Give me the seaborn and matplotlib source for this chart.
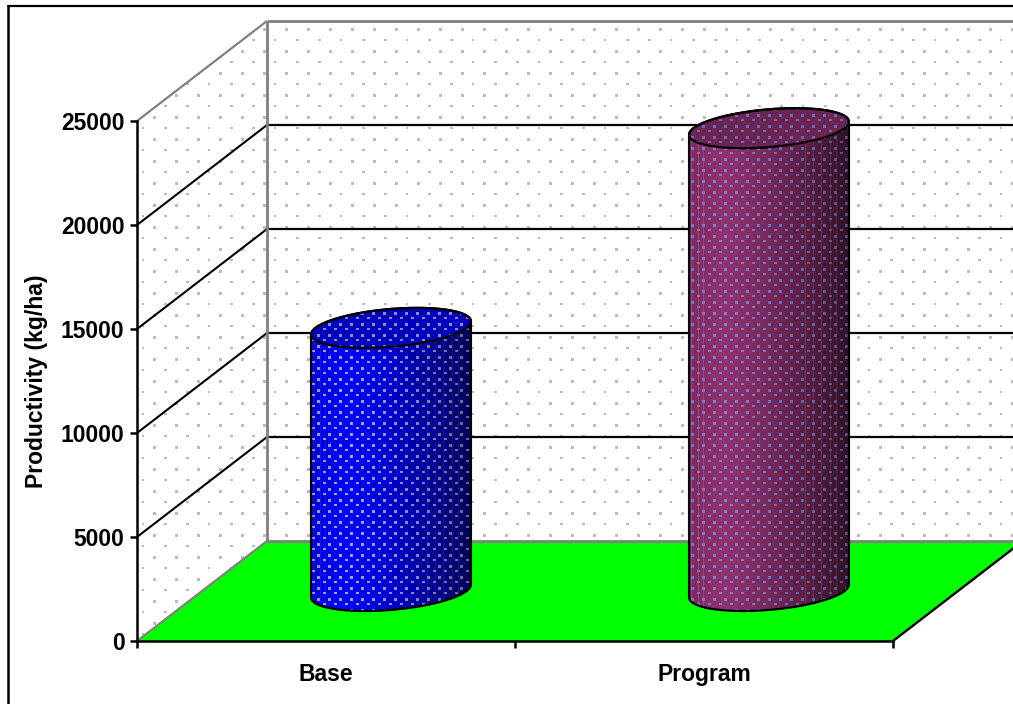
import numpy as np
import pandas as pd
import seaborn as sns
import matplotlib
matplotlib.use("Agg")
import matplotlib.pyplot as plt
from matplotlib.lines import Line2D
from matplotlib.patches import Polygon

# Chart values
categories = ["Base", "Program"]
productivity = [12650, 22250]
y_ticks = [0, 5000, 10000, 15000, 20000, 25000]
y_label = "Productivity (kg/ha)"

# Colours
side_bright = [(0, 0, 250), (146, 50, 108)]
top_colors = [(0, 0, 190), (108, 36, 80)]
dot_colors = [(165, 165, 235), (122, 128, 228)]
wall_dot = (187, 187, 187)
floor_color = "#00ff00"
wall_edge = "#808080"

W, H = 1013, 704
FRONT_L, FRONT_R, FRONT_B, FRONT_T = 137, 893, 641, 121
DEPTH_X_PX, DEPTH_Y_PX = 130, 100

sns.set_theme(style="white")
plt.rcParams["font.family"] = ["Liberation Sans", "DejaVu Sans"]
plt.rcParams["font.weight"] = "bold"

fig = plt.figure(figsize=(W / 100, H / 100), dpi=100, facecolor="white")
ax = fig.add_axes([FRONT_L / W, (H - FRONT_B) / H,
                   (FRONT_R - FRONT_L) / W, (FRONT_B - FRONT_T) / H])
ax.patch.set_visible(False)

df = pd.DataFrame({"group": categories, "value": productivity})
sns.barplot(data=df, x="group", y="value", width=0.4, ax=ax, errorbar=None)
bars = list(ax.patches)
for bar in bars:
    bar.set_visible(False)

XMIN, XMAX, YMIN, YMAX = -0.5, 1.5, 0, 25000
ax.set_xlim(XMIN, XMAX)
ax.set_ylim(YMIN, YMAX)
x_per_px = (XMAX - XMIN) / (FRONT_R - FRONT_L)
y_per_px = (YMAX - YMIN) / (FRONT_B - FRONT_T)
DX = DEPTH_X_PX * x_per_px
DY = DEPTH_Y_PX * y_per_px

# Data extent of the whole canvas, so pixel-grid textures line up with the scales
full_extent = (XMIN - FRONT_L * x_per_px, XMIN + (W - FRONT_L) * x_per_px,
               YMIN - (H - FRONT_B) * y_per_px, YMIN + FRONT_B * y_per_px)


def proj(x, y, d):
    """Project a point at depth d (0 front, 1 back) onto the axes."""
    return x + DX * d, y + DY * d


def textured(rgba, outline, zorder):
    clip = Polygon(outline, closed=True, transform=ax.transData)
    im = ax.imshow(rgba, extent=full_extent, origin="upper", aspect="auto",
                   interpolation="nearest", zorder=zorder)
    im.set_clip_box(fig.bbox)
    im.set_clip_path(clip)
    return im


# Dotted pattern of the two walls
wall_tex = np.ones((H, W, 3), dtype=np.uint8) * 255
for k, row in enumerate(range(7, H, 11)):
    tall = 3 if k % 2 == 0 else 2
    start = 0 if k % 2 == 0 else 11
    for n, col in enumerate(range(start, W, 22)):
        wide = 2 if (k % 2 and n % 3 == 0) else 3
        wall_tex[row - 1:row - 1 + tall, col - 1:col - 1 + wide] = wall_dot

side_wall = [proj(XMIN, 0, 0), proj(XMIN, 0, 1), proj(XMIN, YMAX, 1), proj(XMIN, YMAX, 0)]
back_wall = [proj(XMIN, 0, 1), proj(XMAX, 0, 1), proj(XMAX, YMAX, 1), proj(XMIN, YMAX, 1)]
floor = [proj(XMIN, 0, 0), proj(XMAX, 0, 0), proj(XMAX, 0, 1), proj(XMIN, 0, 1)]
textured(wall_tex, side_wall, 0.2)
textured(wall_tex, back_wall, 0.2)
ax.add_patch(Polygon(floor, closed=True, facecolor=floor_color, edgecolor="none",
                     zorder=0.4, clip_on=False))


def seg(a, b, color, lw, z=0.6):
    ax.add_line(Line2D([a[0], b[0]], [a[1], b[1]], color=color, lw=lw, zorder=z,
                       clip_on=False, solid_capstyle="butt"))


# Gridlines running across both walls
for v in y_ticks[1:-1]:
    seg(proj(XMIN, v, 0), proj(XMIN, v, 1), "black", 1.5)
    seg(proj(XMIN, v, 1), proj(XMAX, v, 1), "black", 1.6)
seg(proj(XMIN, YMAX, 0), proj(XMIN, YMAX, 1), wall_edge, 1.6)
seg(proj(XMIN, YMAX, 1), proj(XMAX, YMAX, 1), wall_edge, 2.0)
seg(proj(XMIN, 0, 1), proj(XMIN, YMAX, 1), wall_edge, 2.0)
seg(proj(XMIN, 0, 0), proj(XMIN, 0, 1), wall_edge, 1.6)
seg(proj(XMIN, 0, 1), proj(XMAX, 0, 1), wall_edge, 2.0)
seg(proj(XMAX, 0, 0), proj(XMAX, 0, 1), "black", 1.7)

# Columns as cylinders standing mid-depth on the floor
DEPTH_RADIUS = 0.2
FACETS = [2, 9, 14, 116, 124, 132, 141, 147]


def ring(cx, value, t):
    xs = cx + (bar_half) * np.cos(t)
    ds = 0.5 + DEPTH_RADIUS * np.sin(t)
    return proj(xs, value, ds)


def shade(u):
    # Lit from the left: brightest near a fifth of the width, dark at the right edge
    rise = 0.85 + 0.15 * np.clip(u / 0.2, 0, 1)
    fall = 1 - 0.66 * np.clip((u - 0.2) / 0.8, 0, 1) ** 1.3
    return rise * fall


for i, bar in enumerate(bars):
    bar_half = bar.get_width() / 2
    cx = bar.get_x() + bar_half
    value = bar.get_height()
    t0 = np.arctan2(DX * DEPTH_RADIUS, bar_half)
    lower = np.linspace(t0 + np.pi, t0 + 2 * np.pi, 80)
    upper = np.linspace(t0, t0 + np.pi, 80)
    low_x, low_y = ring(cx, 0, lower)
    up_x, up_y = ring(cx, value, upper)
    all_x, all_y = ring(cx, value, np.linspace(0, 2 * np.pi, 160))
    body = np.column_stack([np.r_[low_x, up_x], np.r_[low_y, up_y]])
    cap = np.column_stack([all_x, all_y])

    left_px = int(round((low_x[0] - XMIN) / x_per_px + FRONT_L))
    right_px = int(round((low_x[-1] - XMIN) / x_per_px + FRONT_L))
    span = max(right_px - left_px, 1)
    u = np.clip((np.arange(W) - left_px) / span, 0, 1)
    s = shade(u)

    base = np.array(side_bright[i], dtype=float)
    dots = np.array(dot_colors[i], dtype=float)
    tex = np.ones((H, W, 3)) * (base[None, None, :] * s[None, :, None])
    for f in FACETS:
        col = left_px + f
        tex[:, col, :] = np.minimum(tex[:, col, :] * 1.08 + 18, 255)
    dot_scale = (0.4 + 0.6 * s)[None, :, None]
    dot_tex = np.ones((H, W, 3)) * dots[None, None, :] * dot_scale
    mask = np.zeros((H, W), dtype=bool)
    for k, row in enumerate(np.arange(4, H, 5.5)):
        r = int(row)
        start = 9 if k % 2 == 0 else 4
        tall = 3 if k % 2 == 0 else 2
        for col in range(start, W, 11):
            mask[r:r + tall, col:col + 3] = True
    tex[mask] = dot_tex[mask]
    textured(np.clip(tex, 0, 255).astype(np.uint8), body, 1.0 + i)

    cap_tex = np.ones((H, W, 3)) * np.array(top_colors[i], dtype=float)
    flat_dots = np.ones((H, W, 3)) * dots * 0.85
    cap_tex[mask] = flat_dots[mask]
    textured(np.clip(cap_tex, 0, 255).astype(np.uint8), cap, 1.1 + i)

    ax.add_patch(Polygon(body, closed=True, facecolor="none", edgecolor="black",
                         lw=1.6, zorder=1.2 + i, clip_on=False))
    ax.add_patch(Polygon(cap, closed=True, facecolor="none", edgecolor="black",
                         lw=1.6, zorder=1.3 + i, clip_on=False))

# Axes furniture on the front plane
sns.despine(ax=ax, top=True, right=True)
for side in ("left", "bottom"):
    ax.spines[side].set_color("black")
    ax.spines[side].set_linewidth(1.8)
    ax.spines[side].set_zorder(5)

ax.set_yticks(y_ticks)
ax.set_yticklabels([str(v) for v in y_ticks])
ax.set_xticks([-0.5, 0.5, 1.5])
ax.set_xticklabels([])
ax.set_xticks([0, 1], minor=True)
ax.set_xticklabels(categories, minor=True)
ax.tick_params(axis="y", which="major", left=True, length=5, width=1.8, color="black",
               pad=4, labelsize=16.5, labelcolor="black")
ax.tick_params(axis="x", which="major", bottom=True, length=5, width=1.8, color="black")
ax.tick_params(axis="x", which="minor", bottom=False, length=0, pad=16,
               labelsize=16.5, labelcolor="black")
ax.set_xlabel("")
ax.set_ylabel(y_label, fontsize=16.5, fontweight="bold", color="black", labelpad=9)

# Chart frame: only the top and left edges fall inside the canvas
fig.add_artist(Line2D([8 / W, 1], [1 - 6 / H, 1 - 6 / H], color="black", lw=1.6,
                      transform=fig.transFigure))
fig.add_artist(Line2D([8 / W, 8 / W], [0, 1 - 6 / H], color="black", lw=1.8,
                      transform=fig.transFigure))

fig.savefig("out.png", dpi=100, facecolor="white")
